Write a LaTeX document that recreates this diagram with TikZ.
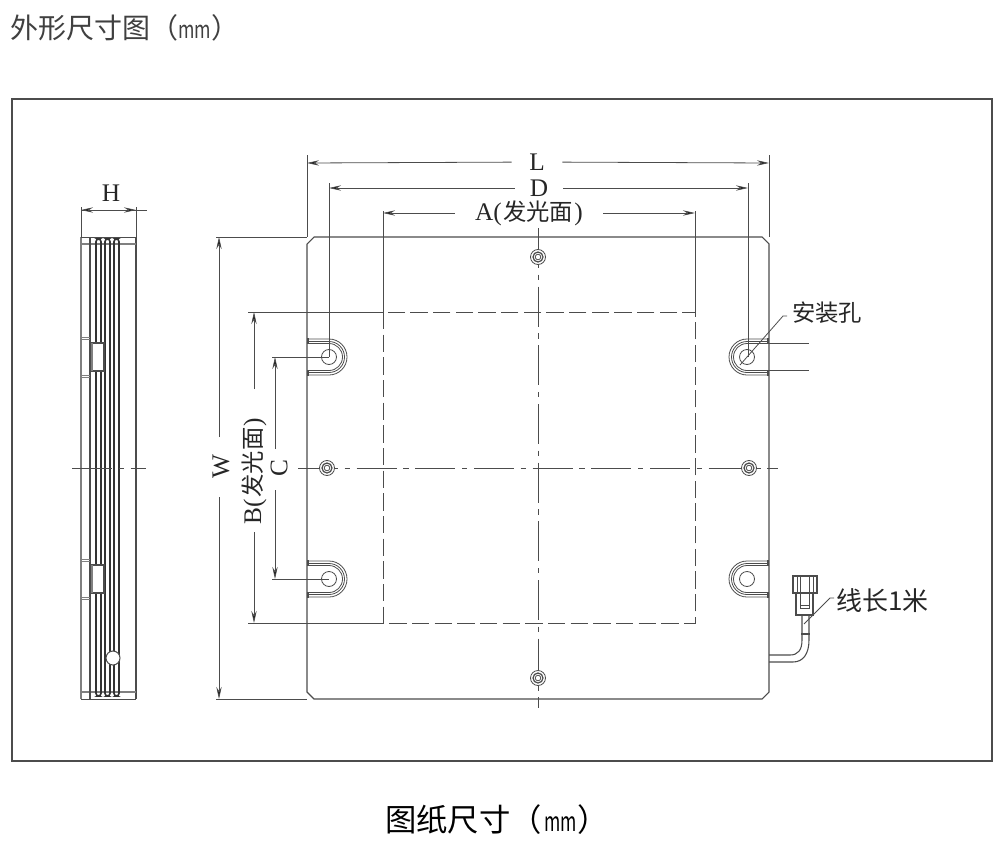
\documentclass[tikz,border=0pt]{standalone}
\usepackage{fontspec}
\setmainfont{Liberation Serif}
\newfontfamily\cjk{Noto Sans CJK SC}
\usetikzlibrary{arrows.meta}
\usetikzlibrary{positioning}
\definecolor{inkgray}{gray}{0.3}
\newcommand{\slimunit}[2]{{\fontsize{#1}{#1}\selectfont\scalebox{#2}[1]{mm}}}
\tikzstyle{outline} = [
    draw=inkgray,
    line width=0.8pt
]
\tikzstyle{thin_line} = [
    draw=inkgray,
    line width=0.6pt
]
\tikzstyle{center_line} = [
    thin_line,
    dash pattern=on 30pt off 5pt on 4pt off 5pt
]
\tikzstyle{hidden_line} = [
    thin_line,
    dash pattern=on 13pt off 4pt
]
\tikzstyle{dim_line} = [
    thin_line,
    -{Stealth[length=9pt,width=4pt,fill=black]}
]
\tikzstyle{dim_label} = [
    font=\fontsize{19}{19}\selectfont,
    text=black!85,
    inner ysep=0pt
]
\tikzstyle{note_label} = [
    font=\cjk\fontsize{17.5}{18}\selectfont,
    text=black!85,
    inner sep=0pt
]
\begin{document}
\begin{tikzpicture}[x=0.75pt, y=-0.75pt]
\useasboundingbox (0,0) rectangle (1000,860);

% titles and frame
\node [anchor=west, inner sep=0pt, text=black!75, font=\cjk\fontsize{21}{22}\selectfont] (title) at (10,28) {外形尺寸图（\slimunit{18}{0.74}）};
\node [anchor=west, inner sep=0pt, text=black, font=\cjk\fontsize{23.5}{25}\selectfont] (caption) at (385,820) {图纸尺寸（\hspace{2pt}\slimunit{20}{0.66}）};
\draw [draw=inkgray, line width=1.4pt] (12,99) rectangle (992,761);

% side view
\coordinate (side_tl) at (81,237);
\coordinate (side_tr) at (136,237);
\coordinate (side_bl) at (81,699);
\coordinate (side_br) at (136,699);
\draw [draw=gray, line width=1pt] (side_tl) -- (side_bl);
\draw [thin_line] (side_tl) -- (side_tr);
\draw [thin_line] (side_bl) -- (side_br);
\draw [outline, line width=1pt] (side_tr) -- (side_br);
\draw [draw=gray, line width=0.8pt] (81,244) -- (136,244);
\draw [draw=gray, line width=0.8pt] (81,692) -- (136,692);
\draw [outline, line width=1.1pt] (90,237) -- (90,699);
\foreach \finx in {96,105,114} {
    \draw [outline, draw=black!80, line width=1.2pt, rounded corners=2pt] (\finx,696) -- (\finx,239) -- (\finx+5,239) -- (\finx+5,696) -- cycle;
}
\foreach \clipy in {343,565} {
    \draw [outline, fill=white] (90,\clipy) rectangle (104,\clipy+28);
    \draw [draw=gray, line width=1pt] (92,\clipy) -- (92,\clipy+28);
    \draw [draw=gray, line width=0.7pt] (81,\clipy-6) -- (90,\clipy-6);
    \draw [draw=gray, line width=0.7pt] (81,\clipy-4) -- (90,\clipy-4);
    \draw [draw=gray, line width=0.7pt] (81,\clipy+32) -- (90,\clipy+32);
    \draw [draw=gray, line width=0.7pt] (81,\clipy+34) -- (90,\clipy+34);
}
\draw [outline, fill=white] (113,658) circle (7);
\draw [center_line] (72,468) -- (146,468);

% front plate
\coordinate (plate_tl) at (307,237);
\coordinate (plate_tr) at (769,237);
\coordinate (plate_bl) at (307,699);
\coordinate (plate_br) at (769,699);
\draw [outline] (307,244) -- (314,237) -- (762,237) -- (769,244) -- (769,692) -- (762,699) -- (314,699) -- (307,692) -- cycle;

% light area and center lines
\draw [hidden_line] (383,312) rectangle (695,623);
\draw [center_line] (538,228) -- (538,708);
\draw [center_line] (298,468) -- (778,468);

% screws
\foreach \sx/\sy in {538/257, 538/678, 327/468, 749/468} {
    \draw [thin_line, fill=white] (\sx,\sy) circle (7.5);
    \draw [thin_line, line width=0.9pt] (\sx,\sy) circle (5);
    \draw [thin_line] (\sx,\sy) circle (2.8);
}

% mounting slots
\foreach \cx/\cy/\dir in {329/357/1, 329/579/1, 747/357/-1, 747/579/-1} {
    \begin{scope}[shift={(\cx,\cy)}, xscale=\dir]
        \foreach \rad in {18,15.5,13.5} {
            \draw [thin_line] (-21,-\rad) -- (0,-\rad) arc[start angle=-90, end angle=90, radius=\rad] -- (-21,\rad);
        }
        \draw [outline, line width=1.1pt] (-21,-19) -- (-21,-13);
        \draw [outline, line width=1.1pt] (-21,13) -- (-21,19);
        \draw [thin_line] (0,0) circle (7.5);
    \end{scope}
}

% dimension L
\node [dim_label, inner xsep=13pt] (L) at (537,162) {L};
\coordinate (L_left) at (307,163);
\coordinate (L_right) at (769,163);
\draw [dim_line] (L) -- (L_left);
\draw [dim_line] (L) -- (L_right);
\draw [thin_line] (307,155) -- (plate_tl);
\draw [thin_line] (769,155) -- (plate_tr);

% dimension D
\node [dim_label, inner xsep=11pt] (D) at (539,188) {D};
\coordinate (D_left) at (329,188);
\coordinate (D_right) at (748,188);
\draw [dim_line] (D) -- (D_left);
\draw [dim_line] (D) -- (D_right);
\draw [thin_line] (329,183) -- (329,357);
\draw [thin_line] (748,183) -- (748,357);

% dimension A
\node [dim_label, inner xsep=15pt] (A) at (529,213) {A(\hspace{1pt}{\cjk\fontsize{17.5}{18}\selectfont 发光面}\hspace{1pt})};
\coordinate (A_left) at (383,213);
\coordinate (A_right) at (695,213);
\draw [dim_line] (A) -- (A_left);
\draw [dim_line] (A) -- (A_right);
\draw [thin_line] (383,211) -- (383,312);
\draw [thin_line] (695,211) -- (695,312);

% dimension H
\node [dim_label] (H) at (111,193) {H};
\coordinate (H_left) at (81,210);
\coordinate (H_right) at (136,210);
\coordinate (H_tail) at (147,210);
\draw [thin_line] (H_left) -- (H_tail);
\draw [dim_line] (H_left) ++(27,0) -- (H_left);
\draw [dim_line] (H_right) ++(-27,0) -- (H_right);
\draw [thin_line] (81,207) -- (side_tl);
\draw [thin_line] (136,207) -- (side_tr);

% dimension W
\node [dim_label, rotate=90, inner xsep=14pt] (W) at (221,467) {W};
\coordinate (W_top) at (219,237);
\coordinate (W_bottom) at (219,699);
\draw [dim_line] (219,437) -- (W_top);
\draw [dim_line] (219,497) -- (W_bottom);
\draw [thin_line] (216,237) -- (plate_tl);
\draw [thin_line] (216,699) -- (plate_bl);

% dimension B
\node [dim_label, rotate=90, inner xsep=0pt] (B) at (254,471) {B(\hspace{1pt}{\cjk\fontsize{17.5}{18}\selectfont 发光面}\hspace{1pt})};
\coordinate (B_top) at (254,312);
\coordinate (B_bottom) at (254,623);
\draw [dim_line] (254,389) -- (B_top);
\draw [dim_line] (254,532) -- (B_bottom);
\draw [thin_line] (248,312) -- (383,312);
\draw [thin_line] (248,623) -- (383,623);

% dimension C
\node [dim_label, rotate=90, inner xsep=0pt] (C) at (279,468) {C};
\coordinate (C_top) at (275,357);
\coordinate (C_bottom) at (275,579);
\draw [dim_line] (275,449) -- (C_top);
\draw [dim_line] (275,490) -- (C_bottom);
\draw [thin_line] (272,357) -- (329,357);
\draw [thin_line] (272,579) -- (329,579);

% mounting hole note
\node [note_label, anchor=west] (hole_note) at (792,313) {安装孔};
\coordinate (hole_end) at (740,365);
\draw [thin_line] (787,316) -- (783,316) -- (hole_end);
\draw [thin_line] (769,343) -- (809,343);
\draw [thin_line] (769,370) -- (809,370);

% cable and plug
\draw [outline] (769,655) -- (790,655) .. controls (798,655) and (802,650) .. (802,640) -- (802,615);
\draw [outline] (769,662) -- (793,662) .. controls (803,662) and (809,654) .. (809,640) -- (809,615);
\draw [outline, line width=1pt] (801,634) -- (810,634);
\draw [outline, fill=white] (796,593) rectangle (813,615);
\draw [outline, fill=white] (793,576) rectangle (817,593);
\draw [thin_line] (797,576) -- (797,593);
\draw [thin_line] (813,576) -- (813,593);
\draw [thin_line] (800,576) -- (800,608) -- (809,608) -- (809,576);
\draw [thin_line] (800,605) -- (809,605);

% cable note
\node [note_label, anchor=west, font=\cjk\fontsize{19.5}{20}\selectfont] (cable_note) at (836,601) {线长1米};
\coordinate (cable_end) at (804,624);
\draw [thin_line] (834,598) -- (830,598) -- (cable_end);
\end{tikzpicture}
\end{document}
